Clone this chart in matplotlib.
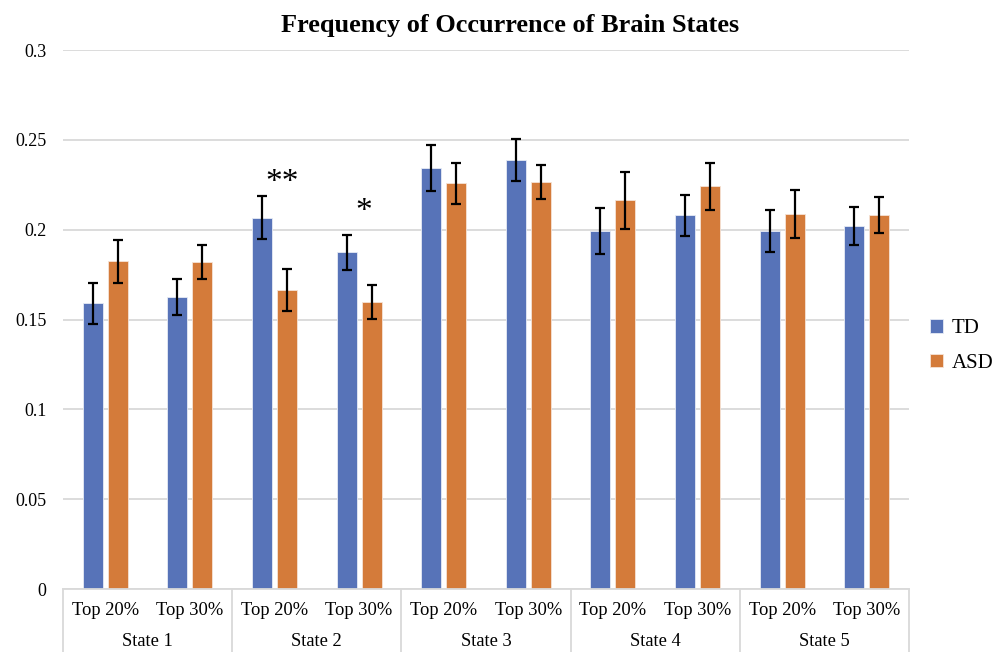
import numpy as np
import matplotlib.pyplot as plt
import matplotlib.transforms as mtransforms

plt.rcParams['font.family'] = ['Liberation Serif', 'DejaVu Serif']

states = ["State 1", "State 2", "State 3", "State 4", "State 5"]
tops = ["Top 20%", "Top 30%"]

# mean frequency per state / threshold (Top 20%, Top 30% for each state)
td = [0.159, 0.1627, 0.2066, 0.1875, 0.2343, 0.2387, 0.1992, 0.2079, 0.1994, 0.2022]
asd = [0.1825, 0.1818, 0.1664, 0.1597, 0.2258, 0.2265, 0.2163, 0.2241, 0.2087, 0.2081]
td_err = [0.0115, 0.010, 0.012, 0.0097, 0.013, 0.0115, 0.013, 0.0112, 0.0118, 0.0107]
asd_err = [0.012, 0.0095, 0.0117, 0.0095, 0.0115, 0.0093, 0.016, 0.013, 0.0135, 0.010]

blue = "#5773b8"
orange = "#d47b3a"
grid = "#d9d9d9"

fig = plt.figure(figsize=(10.06, 6.52), dpi=100)
ax = fig.add_axes([0.0626, 0.0966, 0.841, 0.8267])

x = np.arange(len(td))
w = 0.236
off = 0.148
ax.bar(x - off, td, w, color=blue, edgecolor="#e6ebf5", linewidth=0.6, label="TD", zorder=2)
ax.bar(x + off, asd, w, color=orange, edgecolor="#f5e3d6", linewidth=0.6, label="ASD", zorder=2)
ax.errorbar(x - off, td, yerr=td_err, fmt="none", ecolor="black", elinewidth=1.6,
            capsize=3.3, capthick=1.6, zorder=3)
ax.errorbar(x + off, asd, yerr=asd_err, fmt="none", ecolor="black", elinewidth=1.6,
            capsize=3.3, capthick=1.6, zorder=3)

# significance marks (State 2)
ax.text(2 - off + 0.235, td[2] + td_err[2] + 0.003, "**", ha="center", va="baseline",
        fontsize=24)
ax.text(3 - off + 0.2, td[3] + td_err[3] + 0.008, "*", ha="center", va="baseline",
        fontsize=24)

ax.set_ylim(0, 0.3)
ax.set_xlim(-0.5, len(td) - 0.5)
ax.set_yticks(np.arange(0, 0.31, 0.05))
ax.set_yticklabels(["0", "0.05", "0.1", "0.15", "0.2", "0.25", "0.3"], fontsize=13)
ax.yaxis.grid(True, color=grid, linewidth=1.3, zorder=0)
ax.set_axisbelow(True)
ax.tick_params(axis="y", length=0, pad=12)

ax.set_xticks(x)
ax.set_xticklabels(tops * len(states), fontsize=13.3)
ax.tick_params(axis="x", length=0, pad=9)

for sp in ["top", "right", "left"]:
    ax.spines[sp].set_visible(False)
ax.spines["bottom"].set_color(grid)
ax.spines["bottom"].set_linewidth(1.3)

# group separators and state labels below the axis
trans = mtransforms.blended_transform_factory(ax.transData, ax.transAxes)
for b in np.arange(-0.5, len(td), 2):
    ax.plot([b, b], [0, -0.125], transform=trans, color=grid, linewidth=1.3,
            clip_on=False)
for k, st in enumerate(states):
    ax.text(2 * k + 0.5, -0.097, st, transform=trans, ha="center", va="center",
            fontsize=13.3)

ax.set_title("Frequency of Occurrence of Brain States", fontsize=18.9,
             fontweight="bold", pad=13, x=0.528)

ax.legend(loc="center left", bbox_to_anchor=(0.906, 0.469), bbox_transform=fig.transFigure,
          frameon=False, fontsize=15, handlelength=0.6, handleheight=0.6,
          handletextpad=0.45, labelspacing=0.75)

fig.savefig("out.png", dpi=100)
